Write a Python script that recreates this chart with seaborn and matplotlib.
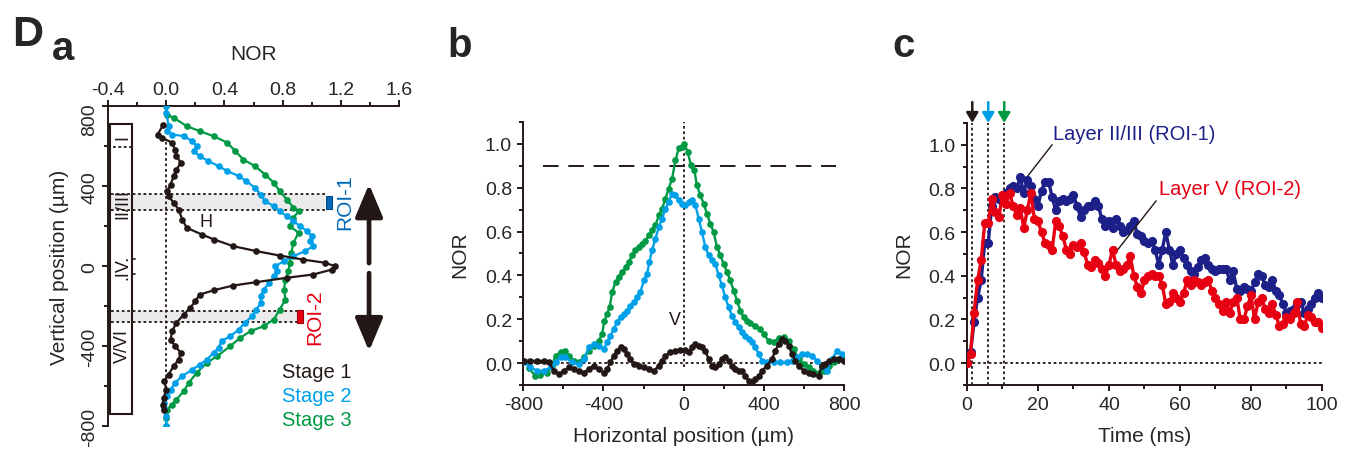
import numpy as np
import pandas as pd
import matplotlib
matplotlib.use('Agg')
import matplotlib.pyplot as plt
import seaborn as sns
from matplotlib.patches import Rectangle
from matplotlib.ticker import MultipleLocator
from matplotlib.transforms import ScaledTranslation

# ---------------------------------------------
# colours
# ---------------------------------------------
BLACK = '#231815'
CYAN = '#00a0e9'
GREEN = '#009944'
NAVY = '#1d2088'
RED = '#e60012'
ROI_BLUE = '#0068b7'

# ---------------------------------------------
# panel a: vertical profiles (NOR vs vertical position, um)
# ---------------------------------------------
s1_pos = [708, 658, 642, 617, 583, 550, 517, 483, 450, 408, 375, 350, 317, 283, 233, 192, 158, 133,
          100, 75, 53, 33, 17, 0, -17, -42, -58, -80, -97, -120, -142, -175, -208, -242, -283, -325,
          -367, -400, -433, -467, -500, -542, -575, -617, -658, -692, -717]
s1_nor = [-0.02, -0.06, -0.03, 0.04, 0.06, 0.07, 0.10, 0.07, 0.05, 0.03, 0.005, 0.016, 0.05, 0.085,
          0.11, 0.14, 0.245, 0.33, 0.46, 0.62, 0.78, 0.94, 1.09, 1.16, 1.14, 1.01, 0.83, 0.62, 0.46,
          0.33, 0.23, 0.20, 0.165, 0.12, 0.07, 0.04, 0.03, 0.06, 0.10, 0.085, 0.05, 0.016, -0.014,
          0.0, -0.018, -0.023, -0.018]

s2_pos = [800, 767, 700, 675, 658, 650, 625, 600, 575, 550, 525, 500, 475, 450, 425, 392, 358, 325,
          300, 275, 250, 225, 200, 175, 150, 125, 100, 75, 50, 25, 0, -25, -50, -83, -117, -150,
          -183, -217, -250, -283, -317, -350, -375, -408, -433, -467, -492, -517, -550, -583, -617,
          -650, -683, -708, -750, -800]
s2_nor = [0.0, 0.0, 0.016, 0.005, 0.04, 0.12, 0.18, 0.21, 0.19, 0.23, 0.29, 0.36, 0.42, 0.50, 0.55,
          0.61, 0.65, 0.68, 0.74, 0.78, 0.83, 0.875, 0.92, 0.97, 1.00, 0.99, 1.01, 0.955, 0.875, 0.81,
          0.75, 0.76, 0.74, 0.71, 0.67, 0.65, 0.65, 0.62, 0.59, 0.54, 0.50, 0.44, 0.38, 0.36, 0.325,
          0.28, 0.23, 0.18, 0.11, 0.06, 0.03, 0.005, -0.018, -0.018, 0.0, 0.0]

s3_pos = [800, 758, 742, 700, 675, 650, 617, 575, 533, 500, 458, 417, 375, 333, 292, 275, 242, 200,
          167, 117, 67, 17, -25, -67, -117, -167, -217, -267, -300, -325, -358, -400, -450, -483,
          -533, -583, -625, -667, -692, -717, -760, -800]
s3_nor = [0.0, 0.005, 0.05, 0.14, 0.23, 0.325, 0.42, 0.475, 0.53, 0.61, 0.68, 0.74, 0.78, 0.83,
          0.875, 0.91, 0.875, 0.85, 0.91, 0.875, 0.86, 0.85, 0.84, 0.82, 0.81, 0.82, 0.78, 0.74,
          0.67, 0.58, 0.51, 0.44, 0.35, 0.28, 0.21, 0.155, 0.12, 0.07, 0.04, 0.005, 0.0, 0.0]

layer_names = ['I', 'II/III', '.IV.', 'V/VI']
layer_centres = [650, 317, 0, -392]
depth_ticks = [-800, -400, 0, 400, 800]

# ---------------------------------------------
# panel b: horizontal profiles (NOR vs horizontal position, um)
# ---------------------------------------------
h1_x = [-797, -764, -730, -697, -672, -647, -622, -597, -573, -548, -523, -498, -473, -448, -423,
        -398, -382, -365, -349, -332, -315, -299, -282, -266, -249, -224, -199, -174, -149, -124,
        -108, -91, -66, -41, -17, 8, 25, 41, 58, 75, 91, 108, 124, 141, 158, 174, 191, 207, 224,
        241, 257, 274, 290, 307, 324, 340, 357, 374, 390, 415, 440, 457, 473, 490, 507, 523, 540,
        556, 573, 598, 623, 647, 672, 689, 706, 722, 747, 772, 797]
h1_nor = [0.01, 0.01, 0.01, 0.01, 0.003, -0.035, -0.05, -0.035, -0.02, -0.027, -0.035, -0.043,
          -0.027, -0.012, -0.027, -0.043, -0.027, 0.003, 0.034, 0.056, 0.072, 0.064, 0.041, 0.018,
          -0.005, -0.012, -0.02, -0.027, -0.035, -0.012, 0.011, 0.034, 0.049, 0.056, 0.061, 0.061,
          0.049, 0.072, 0.087, 0.079, 0.072, 0.056, 0.018, -0.012, -0.02, -0.005, 0.018, 0.026,
          0.011, -0.012, -0.027, -0.035, -0.035, -0.058, -0.081, -0.088, -0.073, -0.058, -0.035,
          -0.012, 0.018, 0.056, 0.087, 0.11, 0.102, 0.079, 0.041, 0.011, -0.012, -0.035, -0.043,
          -0.05, -0.058, -0.012, -0.005, 0.011, 0.018, 0.018, 0.01]

h2_x = [-789, -764, -730, -697, -664, -639, -614, -590, -556, -523, -498, -473, -448, -423, -398,
        -382, -365, -349, -332, -315, -299, -282, -266, -249, -232, -216, -199, -183, -171, -158,
        -141, -124, -108, -91, -75, -58, -41, -25, -8, 8, 25, 41, 58, 75, 91, 108, 124, 141, 158,
        174, 191, 207, 224, 241, 257, 274, 290, 307, 324, 340, 357, 374, 390, 415, 448, 481, 515,
        540, 564, 589, 614, 639, 664, 689, 714, 739, 764, 789]
h2_nor = [0.003, -0.02, -0.035, -0.035, -0.02, 0.003, 0.026, 0.026, 0.003, -0.005, 0.018, 0.072,
          0.087, 0.079, 0.064, 0.095, 0.125, 0.155, 0.186, 0.209, 0.224, 0.239, 0.262, 0.277, 0.30,
          0.323, 0.377, 0.407, 0.46, 0.514, 0.567, 0.62, 0.659, 0.704, 0.735, 0.773, 0.765, 0.742,
          0.727, 0.72, 0.735, 0.742, 0.72, 0.659, 0.598, 0.529, 0.491, 0.468, 0.453, 0.40, 0.354,
          0.30, 0.255, 0.216, 0.186, 0.163, 0.14, 0.125, 0.11, 0.095, 0.072, 0.041, 0.011, 0.003,
          0.003, 0.003, 0.003, 0.011, 0.026, 0.041, 0.041, 0.034, 0.011, -0.02, -0.035, 0.018,
          0.056, 0.041]

h3_x = [-772, -739, -714, -681, -656, -639, -614, -590, -573, -548, -523, -498, -473, -448, -423,
        -407, -395, -382, -369, -357, -340, -324, -307, -290, -274, -257, -241, -224, -207, -191,
        -174, -158, -141, -124, -108, -91, -75, -58, -41, -25, -8, 3, 20, 36, 53, 66, 83, 100,
        116, 133, 149, 166, 183, 199, 216, 232, 249, 266, 282, 299, 315, 332, 357, 382, 398, 423,
        448, 473, 498, 523, 548, 573, 598, 623, 647, 672, 697, 722, 747, 772, 797]
h3_nor = [-0.024, -0.058, -0.055, -0.043, -0.012, 0.034, 0.049, 0.056, 0.034, 0.011, 0.003, 0.026,
          0.056, 0.079, 0.102, 0.133, 0.194, 0.224, 0.255, 0.323, 0.369, 0.392, 0.415, 0.437, 0.46,
          0.491, 0.514, 0.529, 0.544, 0.559, 0.582, 0.605, 0.628, 0.674, 0.704, 0.75, 0.796, 0.841,
          0.925, 0.979, 0.986, 1.0, 0.963, 0.902, 0.88, 0.811, 0.765, 0.727, 0.681, 0.636, 0.598,
          0.529, 0.491, 0.453, 0.415, 0.377, 0.331, 0.285, 0.239, 0.209, 0.194, 0.183, 0.171,
          0.155, 0.133, 0.102, 0.095, 0.113, 0.117, 0.102, 0.064, 0.018, -0.005, -0.02, -0.035,
          -0.043, -0.035, -0.012, 0.003, 0.018, 0.034]

# ---------------------------------------------
# panel c: time courses (NOR vs time, ms)
# ---------------------------------------------
time_ms = list(range(0, 101))
roi1_nor = [0.0, 0.05, 0.19, 0.30, 0.38, 0.55, 0.55, 0.72, 0.76, 0.75, 0.74, 0.78, 0.80, 0.81, 0.80,
            0.85, 0.78, 0.84, 0.81, 0.75, 0.72, 0.79, 0.83, 0.83, 0.76, 0.70, 0.74, 0.75, 0.74, 0.75,
            0.77, 0.72, 0.67, 0.70, 0.72, 0.72, 0.74, 0.72, 0.66, 0.63, 0.65, 0.62, 0.66, 0.63, 0.60,
            0.61, 0.63, 0.65, 0.59, 0.58, 0.56, 0.55, 0.56, 0.52, 0.45, 0.52, 0.60, 0.52, 0.45, 0.50,
            0.52, 0.48, 0.45, 0.42, 0.41, 0.44, 0.47, 0.48, 0.45, 0.43, 0.42, 0.43, 0.43, 0.43, 0.38,
            0.42, 0.34, 0.33, 0.35, 0.34, 0.33, 0.37, 0.41, 0.40, 0.36, 0.35, 0.38, 0.33, 0.31, 0.27,
            0.23, 0.24, 0.25, 0.27, 0.28, 0.23, 0.25, 0.27, 0.30, 0.32, 0.30]
roi2_nor = [0.0, 0.04, 0.23, 0.38, 0.47, 0.64, 0.64, 0.75, 0.69, 0.67, 0.77, 0.73, 0.78, 0.72, 0.68,
            0.71, 0.62, 0.70, 0.78, 0.66, 0.65, 0.60, 0.55, 0.54, 0.52, 0.65, 0.63, 0.58, 0.52, 0.50,
            0.54, 0.53, 0.55, 0.51, 0.45, 0.44, 0.47, 0.46, 0.43, 0.40, 0.45, 0.52, 0.45, 0.42, 0.43,
            0.45, 0.49, 0.40, 0.35, 0.32, 0.38, 0.40, 0.41, 0.40, 0.40, 0.36, 0.27, 0.28, 0.32, 0.30,
            0.28, 0.32, 0.38, 0.36, 0.38, 0.37, 0.36, 0.37, 0.38, 0.33, 0.30, 0.27, 0.24, 0.28, 0.23,
            0.28, 0.30, 0.20, 0.20, 0.26, 0.31, 0.20, 0.28, 0.30, 0.25, 0.23, 0.27, 0.22, 0.17, 0.18,
            0.21, 0.20, 0.23, 0.28, 0.18, 0.17, 0.22, 0.21, 0.19, 0.19, 0.16]
onset_times = [1.5, 6.0, 10.5]
onset_colours = [BLACK, CYAN, GREEN]

# ---------------------------------------------
# style
# ---------------------------------------------
sns.set_style('ticks')
plt.rcParams['font.family'] = ['Liberation Sans', 'DejaVu Sans']
plt.rcParams['axes.unicode_minus'] = False
plt.rcParams['font.size'] = 14

DOT = (0, (1.5, 1.5))


def style_axes(ax, sides):
    for s in ['top', 'bottom', 'left', 'right']:
        ax.spines[s].set_visible(s in sides)
        ax.spines[s].set_linewidth(1.4)
        ax.spines[s].set_color(BLACK)
    ax.tick_params(which='major', length=4, width=1.4, color=BLACK, labelsize=14, pad=4)
    ax.tick_params(which='minor', length=3, width=1.4, color=BLACK)
    ax.set_facecolor('none')


def profile(ax, x, y, colour, ms=4.8, lw=1.6, z=3):
    sns.lineplot(x=x, y=y, ax=ax, sort=False, estimator=None, color=colour, marker='o',
                 markersize=ms, markeredgecolor=colour, markeredgewidth=0, linewidth=lw,
                 legend=False, zorder=z)


fig = plt.figure(figsize=(13.52, 4.52), dpi=100)

# =============================================
# panel a
# =============================================
ax_a = fig.add_axes([0.080, 0.055, 0.215, 0.708])
style_axes(ax_a, ['top', 'left'])
ax_a.set_xlim(-0.4, 1.6)
ax_a.set_ylim(-800, 800)
ax_a.xaxis.tick_top()
ax_a.xaxis.set_label_position('top')
ax_a.xaxis.set_major_locator(MultipleLocator(0.4))
ax_a.xaxis.set_minor_locator(MultipleLocator(0.2))
ax_a.set_yticks(depth_ticks)
ax_a.yaxis.set_minor_locator(MultipleLocator(200))
ax_a.xaxis.set_major_formatter(plt.FuncFormatter(lambda v, p: f'{v:.1f}'))
ax_a.tick_params(axis='x', pad=2)
ax_a.tick_params(axis='y', pad=3)
ax_a.set_xlabel('NOR', fontsize=15, labelpad=16)
ax_a.set_ylabel('Vertical position (\u00b5m)', fontsize=15, labelpad=9)
ylabs = ax_a.get_yticklabels()
for lab in ylabs:
    lab.set_rotation(90)
    lab.set_va('center')
# top depth label sits a little below its tick, as in the figure
ylabs[-1].set_transform(ylabs[-1].get_transform() + ScaledTranslation(0, -9 / 72, fig.dpi_scale_trans))

# ROI bands
ax_a.add_patch(Rectangle((-0.38, 280), 1.47, 82, facecolor='#ebebeb', edgecolor='none', zorder=0))
ax_a.add_patch(Rectangle((-0.38, -280), 1.28, 58, facecolor='#ebebeb', edgecolor='none', zorder=0))
for yy, x1 in [(362, 1.09), (280, 1.09), (-222, 0.90), (-280, 0.90)]:
    ax_a.plot([-0.38, x1], [yy, yy], color=BLACK, lw=1.3, ls=DOT, zorder=1)
ax_a.plot([0, 0], [-717, 633], color=BLACK, lw=1.3, ls=DOT, zorder=1)

profile(ax_a, s3_nor, s3_pos, GREEN)
profile(ax_a, s2_nor, s2_pos, CYAN)
profile(ax_a, s1_nor, s1_pos, BLACK)

# layer box
ax_a.add_patch(Rectangle((-0.385, -738), 0.149, 1450, facecolor='none', edgecolor=BLACK, lw=1.5))
ax_a.plot([-0.37, -0.236], [595, 595], color=BLACK, lw=1.3, ls=DOT)
for yy in [37, -37]:
    ax_a.plot([-0.236, -0.215], [yy, yy], color=BLACK, lw=1.2)
for name, yc in zip(layer_names, layer_centres):
    ax_a.text(-0.30, yc, name, rotation=90, ha='center', va='center', fontsize=13, color=BLACK)

# ROI markers and labels
ax_a.add_patch(Rectangle((1.098, 287), 0.04, 66, facecolor=ROI_BLUE, edgecolor='#004a8a', lw=0.8, zorder=4))
ax_a.add_patch(Rectangle((0.898, -283), 0.04, 66, facecolor=RED, edgecolor='#a0000c', lw=0.8, zorder=4))
ax_a.text(1.23, 325, 'ROI-1', rotation=90, ha='center', va='center', fontsize=15, color=ROI_BLUE)
ax_a.text(1.02, -250, 'ROI-2', rotation=90, ha='center', va='center', fontsize=15, color=RED)
ax_a.text(0.27, 225, 'H', ha='center', va='center', fontsize=13, color=BLACK)

# big double arrow (broken in the middle)
arrow_kw = dict(arrowstyle='-|>,head_length=1.0,head_width=0.42', lw=3.4, color=BLACK,
                mutation_scale=20, shrinkA=0, shrinkB=0)
ax_a.annotate('', xy=(1.395, 410), xytext=(1.395, 15), arrowprops=arrow_kw, annotation_clip=False)
ax_a.annotate('', xy=(1.395, -425), xytext=(1.395, -35), arrowprops=arrow_kw, annotation_clip=False)

# legend as coloured text
for i, (lab, col) in enumerate(zip(['Stage 1', 'Stage 2', 'Stage 3'], [BLACK, CYAN, GREEN])):
    ax_a.text(0.795, -525 - i * 120, lab, ha='left', va='center', fontsize=14.5, color=col)

# =============================================
# panel b
# =============================================
ax_b = fig.add_axes([0.387, 0.146, 0.2374, 0.582])
style_axes(ax_b, ['bottom', 'left'])
ax_b.set_xlim(-800, 800)
ax_b.set_ylim(-0.1, 1.1)
ax_b.xaxis.set_major_locator(MultipleLocator(400))
ax_b.xaxis.set_minor_locator(MultipleLocator(200))
ax_b.yaxis.set_minor_locator(MultipleLocator(0.1))
ax_b.set_yticks(np.arange(0, 1.01, 0.2))
ax_b.yaxis.set_major_formatter(plt.FuncFormatter(lambda v, p: f'{v:.1f}'))
ax_b.set_xlabel('Horizontal position (\u00b5m)', fontsize=15, labelpad=9)
ax_b.set_ylabel('NOR', fontsize=15, labelpad=11)

ax_b.plot([-700, 760], [0.9, 0.9], color=BLACK, lw=1.4, ls=(0, (8, 5)), zorder=1)
ax_b.plot([-800, 800], [0, 0], color=BLACK, lw=1.3, ls=DOT, zorder=1)
ax_b.plot([0, 0], [-0.02, 1.1], color=BLACK, lw=1.3, ls=DOT, zorder=1)

profile(ax_b, h3_x, h3_nor, GREEN, ms=4.8, lw=1.7)
profile(ax_b, h2_x, h2_nor, CYAN, ms=4.8, lw=1.7)
profile(ax_b, h1_x, h1_nor, BLACK, ms=4.8, lw=1.7)
ax_b.text(-45, 0.2, 'V', ha='center', va='center', fontsize=13, color=BLACK)

# =============================================
# panel c
# =============================================
ax_c = fig.add_axes([0.7152, 0.146, 0.2626, 0.580])
style_axes(ax_c, ['bottom', 'left'])
ax_c.set_xlim(0, 100)
ax_c.set_ylim(-0.1, 1.1)
ax_c.xaxis.set_major_locator(MultipleLocator(20))
ax_c.xaxis.set_minor_locator(MultipleLocator(10))
ax_c.yaxis.set_minor_locator(MultipleLocator(0.1))
ax_c.set_yticks(np.arange(0, 1.01, 0.2))
ax_c.yaxis.set_major_formatter(plt.FuncFormatter(lambda v, p: f'{v:.1f}'))
ax_c.set_xlabel('Time (ms)', fontsize=15, labelpad=9)
ax_c.set_ylabel('NOR', fontsize=15, labelpad=11)

ax_c.plot([0, 100], [0, 0], color=BLACK, lw=1.3, ls=DOT, zorder=1)
for t, col in zip(onset_times, onset_colours):
    ax_c.plot([t, t], [-0.1, 1.1], color=BLACK, lw=1.3, ls=DOT, zorder=1, clip_on=False)
    ax_c.annotate('', xy=(t, 1.10), xytext=(t, 1.195),
                  arrowprops=dict(arrowstyle='-|>,head_length=0.5,head_width=0.3', lw=1.8,
                                  color=col, mutation_scale=12, shrinkA=0, shrinkB=0),
                  annotation_clip=False)

profile(ax_c, time_ms, roi1_nor, NAVY, ms=6.6, lw=2.4)
profile(ax_c, time_ms, roi2_nor, RED, ms=6.6, lw=2.4, z=4)

ax_c.plot([17.2, 24.0], [0.858, 1.0], color=BLACK, lw=1.0, zorder=5)
ax_c.text(24.3, 1.05, 'Layer II/III (ROI-1)', ha='left', va='center', fontsize=14.5, color=NAVY)
ax_c.plot([42.5, 53.3], [0.52, 0.743], color=BLACK, lw=1.0, zorder=5)
ax_c.text(54.0, 0.80, 'Layer V (ROI-2)', ha='left', va='center', fontsize=14.5, color=RED)

# =============================================
# panel letters
# =============================================
fig.text(0.009, 0.898, 'D', fontsize=31, fontweight='bold', ha='left', va='baseline')
fig.text(0.038, 0.867, 'a', fontsize=29, fontweight='bold', ha='left', va='baseline')
fig.text(0.331, 0.874, 'b', fontsize=29, fontweight='bold', ha='left', va='baseline')
fig.text(0.660, 0.874, 'c', fontsize=29, fontweight='bold', ha='left', va='baseline')

fig.savefig('out.png', dpi=100)
